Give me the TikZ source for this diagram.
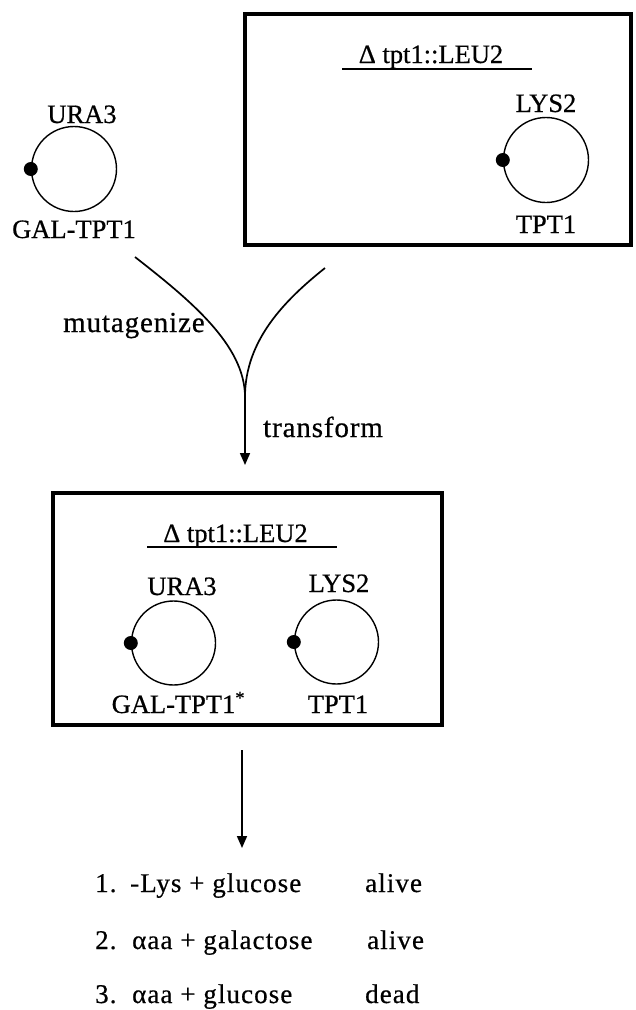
\documentclass[tikz,border=0pt]{standalone}
\usepackage{fontspec}
\setmainfont[FakeBold=0.6]{Liberation Serif}
\newfontfamily\rowfont[LetterSpace=4,FakeBold=0.6]{Liberation Serif}
\newfontfamily\stepfont[LetterSpace=3,FakeBold=0.6]{Liberation Serif}
\usetikzlibrary{arrows.meta}
\begin{document}
\begin{tikzpicture}[x=1pt,y=-1pt,
  lbl/.style={font=\fontsize{26.5}{30}\selectfont, inner sep=0, anchor=base},
  steplbl/.style={font=\stepfont\fontsize{29}{32}\selectfont, inner sep=0, anchor=base west},
  rowlbl/.style={font=\rowfont\fontsize{27}{30}\selectfont, inner sep=0, anchor=base west},
  plasmid/.style={draw, circle, line width=1.4pt, inner sep=0, minimum size=85pt},
  origin/.style={fill, circle, inner sep=0, minimum size=14pt},
  strainbox/.style={draw, line width=4pt, inner sep=0},
  uline/.style={line width=1.4pt},
  flow/.style={line width=1.7pt},
  tipped/.style={flow, -{Triangle[length=12pt,width=10pt]}}
]
\useasboundingbox (0,0) rectangle (635,1010);

% ---------- free plasmid (top left)
\node[lbl] (uraA) at (82,123) {URA3};
\node[plasmid] (pA) at (74,169) {};
\node[origin] (oA) at (pA.west) {};
\node[lbl] (galA) at (74,238) {GAL-TPT1};

% ---------- top strain box
\node[strainbox, minimum width=386pt, minimum height=231pt] (boxT) at (438,129.5) {};
\node[lbl] (titleT) at (431,63) {Δ tpt1::LEU2};
\draw[uline] (342,69) -- (532,69);
\node[lbl] (lysT) at (546,112) {LYS2};
\node[plasmid] (pT) at (546,160) {};
\node[origin] (oT) at (pT.west) {};
\node[lbl] (tptT) at (546,233) {TPT1};

% ---------- merging connectors
\coordinate (s1) at (135,257);
\coordinate (s2) at (325,268);
\coordinate (merge) at (245,397);
\coordinate (tip1) at (245,465);
\draw[tipped] (s1) .. controls (190,300) and (245,345) .. (merge) -- (tip1);
\draw[flow] (s2) .. controls (285,300) and (245,340) .. (merge);
\node[steplbl] (mut) at (63,332) {mutagenize};
\node[steplbl] (trf) at (263,437) {transform};

% ---------- lower strain box
\node[strainbox, minimum width=389pt, minimum height=232pt] (boxL) at (247.5,609) {};
\node[lbl] (titleL) at (235.5,542) {Δ tpt1::LEU2};
\draw[uline] (147,547) -- (337,547);
\node[lbl] (uraL) at (182,595) {URA3};
\node[plasmid, minimum size=84pt] (pL1) at (173.5,643) {};
\node[origin] (oL1) at (pL1.west) {};
\node[lbl] (galL) at (173.5,713) {GAL-TPT1\rlap{\textsuperscript{*}}};
\node[lbl] (lysL) at (339,592) {LYS2};
\node[plasmid, minimum size=84pt] (pL2) at (336.5,642) {};
\node[origin] (oL2) at (pL2.west) {};
\node[lbl] (tptL) at (338,713) {TPT1};

% ---------- test arrow
\coordinate (s3) at (242,750);
\coordinate (tip2) at (242,848);
\draw[tipped] (s3) -- (tip2);

% ---------- results
\node[rowlbl] (n1) at (95,892) {1.};
\node[rowlbl] (m1) at (130,892) {-Lys + glucose};
\node[rowlbl] (r1) at (365,892) {alive};
\node[rowlbl] (n2) at (95,949) {2.};
\node[rowlbl] (m2) at (132,949) {αaa + galactose};
\node[rowlbl] (r2) at (367,949) {alive};
\node[rowlbl] (n3) at (95,1003) {3.};
\node[rowlbl] (m3) at (132,1003) {αaa + glucose};
\node[rowlbl] (r3) at (365,1003) {dead};
\end{tikzpicture}
\end{document}
